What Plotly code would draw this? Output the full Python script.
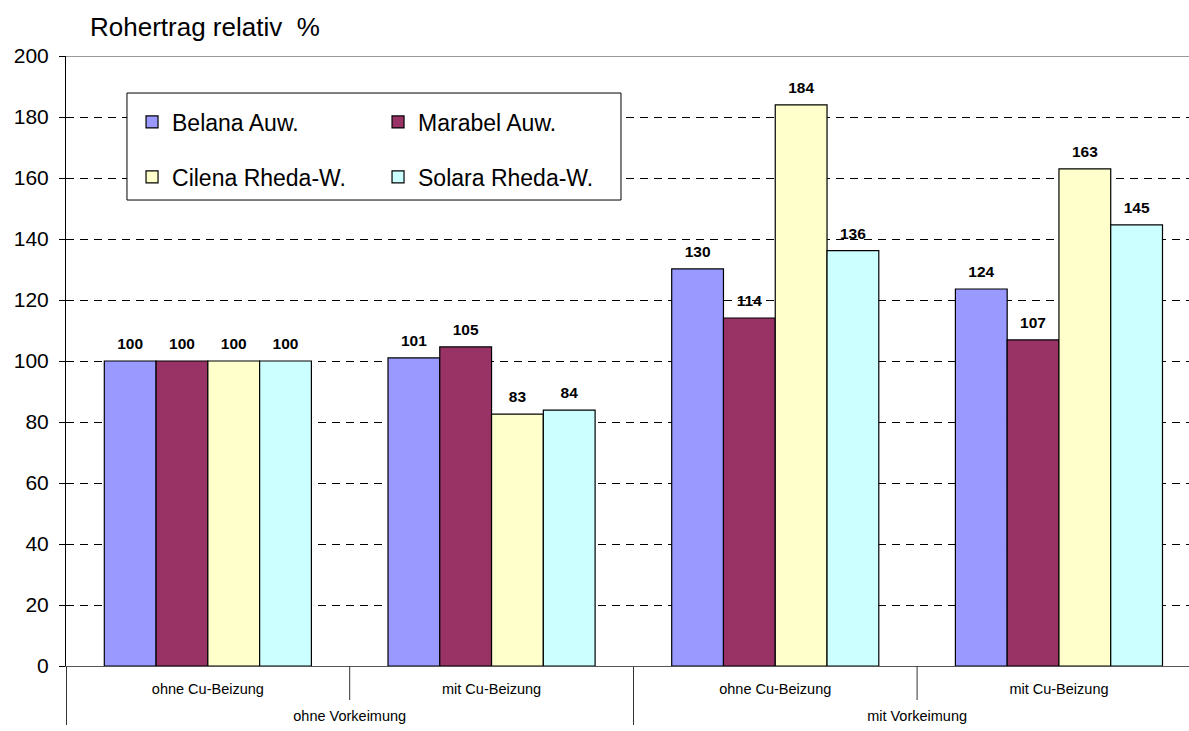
import plotly.graph_objects as go

# ---- data ----
outer = ["ohne Vorkeimung", "ohne Vorkeimung", "mit Vorkeimung", "mit Vorkeimung"]
inner = ["ohne Cu-Beizung", "mit Cu-Beizung", "ohne Cu-Beizung", "mit Cu-Beizung"]

series_names = ["Belana Auw.", "Marabel Auw.", "Cilena Rheda-W.", "Solara Rheda-W."]
belana = [100, 101.0, 130.2, 123.6]
marabel = [100, 104.6, 114.1, 106.9]
cilena = [100, 82.6, 184.0, 163.0]
solara = [100, 83.9, 136.2, 144.6]
series_values = [belana, marabel, cilena, solara]

colors = ["#9999FF", "#993366", "#FFFFCC", "#CCFFFF"]
legend_ids = ["legend", "legend", "legend2", "legend2"]

y_title = "Rohertrag relativ\u00a0 %"
y_min, y_max, y_step = 0, 200, 20

FONT = "Arial, Liberation Sans, sans-serif"

# outer labels get a leading line break so the second level sits lower, as in the original
outer_display = ["<br>" + o for o in outer]

fig = go.Figure()

for name, vals, col, lg in zip(series_names, series_values, colors, legend_ids):
    fig.add_trace(go.Bar(
        x=[outer_display, inner], y=vals, name=name,
        marker=dict(color=col, line=dict(color="black", width=1.2)),
        legend=lg,
    ))

# value labels as grouped scatter text so they sit above each bar
for name, vals in zip(series_names, series_values):
    fig.add_trace(go.Scatter(
        x=[outer_display, inner], y=vals, mode="markers+text",
        marker=dict(size=11.4, color="rgba(0,0,0,0)"),
        text=[f"{v:.0f}" for v in vals], textposition="top center",
        textfont=dict(family=FONT, size=15.5, color="black", weight="bold"),
        showlegend=False, hoverinfo="skip", cliponaxis=False,
    ))

cat_width_px = 283.7
plot_w = 1189 - 66

fig.update_layout(
    width=1189, height=731,
    margin=dict(l=66, r=0, t=56, b=65),
    paper_bgcolor="white", plot_bgcolor="white",
    barmode="group", bargap=0.27, bargroupgap=0,
    scattermode="group",
    font=dict(family=FONT, color="black"),
    title=dict(text=y_title, x=90 / 1189, xanchor="left", xref="container",
               y=1 - 27 / 731, yanchor="middle", yref="container",
               font=dict(family=FONT, size=26, color="black")),
    legend=dict(orientation="h", x=0.0588, xanchor="left", y=0.8918, yanchor="middle",
                entrywidth=201, bgcolor="rgba(0,0,0,0)",
                font=dict(family=FONT, size=23, color="black")),
    legend2=dict(orientation="h", x=0.0588, xanchor="left", y=0.8016, yanchor="middle",
                 entrywidth=201, bgcolor="rgba(0,0,0,0)",
                 font=dict(family=FONT, size=23, color="black")),
    xaxis=dict(
        type="multicategory",
        range=[-0.5, -0.5 + plot_w / cat_width_px],
        showline=True, linecolor="#555555", linewidth=1,
        ticks="", ticklabelstandoff=10,
        showgrid=False,
        showdividers=True, dividercolor="#333333", dividerwidth=1,
        tickfont=dict(family=FONT, size=14.5, color="black"),
    ),
    yaxis=dict(
        range=[y_min, y_max], dtick=y_step, tick0=0,
        showline=True, linecolor="black", linewidth=1,
        ticks="outside", ticklen=6, tickcolor="black", tickwidth=1,
        ticklabelstandoff=6,
        showgrid=True, gridcolor="black", gridwidth=1, griddash="8px,6px",
        zeroline=False,
        tickfont=dict(family=FONT, size=21, color="black"),
    ),
    shapes=[
        # legend frame
        dict(type="rect", xref="paper", yref="paper",
             x0=0.0543, x1=0.4942, y0=0.7639, y1=0.9393,
             line=dict(color="black", width=1), fillcolor="white", layer="above"),
        # top border of plot area
        dict(type="line", xref="paper", yref="y", x0=0, x1=1, y0=y_max, y1=y_max,
             line=dict(color="#999999", width=2), layer="above"),
        # inner category separators
        dict(type="line", xref="x", yref="paper", x0=0.5, x1=0.5, y0=0, y1=-34 / 610,
             line=dict(color="#333333", width=1)),
        dict(type="line", xref="x", yref="paper", x0=2.5, x1=2.5, y0=0, y1=-34 / 610,
             line=dict(color="#333333", width=1)),
    ],
)

fig.write_html("out.html")
